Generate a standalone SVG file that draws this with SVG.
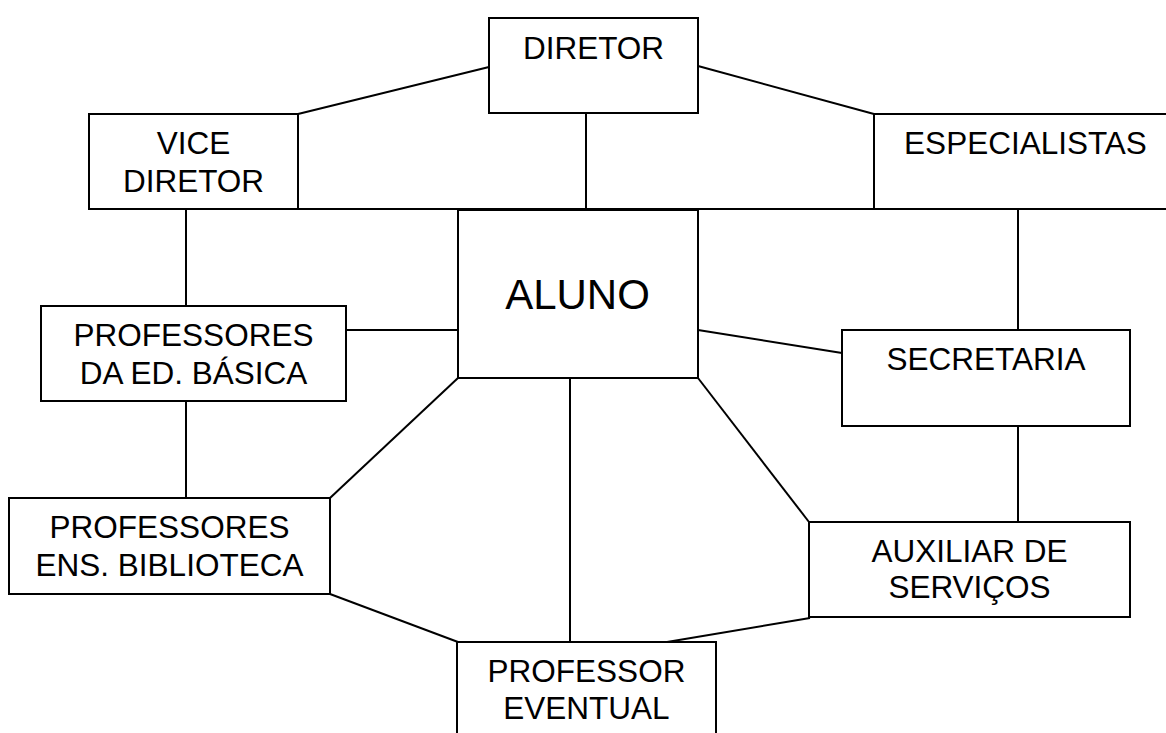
<svg xmlns="http://www.w3.org/2000/svg" width="1166" height="733" viewBox="0 0 1166 733">
<style>
.box{fill:#fff;stroke:#000;stroke-width:2}
.ln{fill:none;stroke:#000;stroke-width:2}
text{font-family:"Liberation Sans",Arial,sans-serif;font-size:31.5px;fill:#000;text-anchor:middle}
.big{font-size:42px}
</style>
<rect width="1166" height="733" fill="#fff"/>
<g id="connectors">
<line class="ln" x1="298" y1="114" x2="489" y2="67"/>
<line class="ln" x1="698" y1="66" x2="874" y2="114"/>
<line class="ln" x1="298" y1="209" x2="874" y2="209"/>
<line class="ln" x1="586" y1="113" x2="586" y2="209"/>
<line class="ln" x1="186" y1="209" x2="186" y2="306"/>
<line class="ln" x1="1018" y1="209" x2="1018" y2="330"/>
<line class="ln" x1="346" y1="330" x2="458" y2="330"/>
<line class="ln" x1="698" y1="330" x2="842" y2="353"/>
<line class="ln" x1="186" y1="401" x2="186" y2="498"/>
<line class="ln" x1="1018" y1="426" x2="1018" y2="522"/>
<line class="ln" x1="458" y1="378" x2="330" y2="498"/>
<line class="ln" x1="698" y1="378" x2="809" y2="522"/>
<line class="ln" x1="570" y1="378" x2="570" y2="642"/>
<line class="ln" x1="330" y1="594" x2="458" y2="642"/>
<line class="ln" x1="667" y1="642" x2="810" y2="618"/>
</g>
<g id="diretor">
<rect class="box" x="489" y="18" width="209" height="95"/>
<text x="593.5" y="59">DIRETOR</text>
</g>
<g id="vice-diretor">
<rect class="box" x="89" y="114" width="209" height="95"/>
<text x="193.5" y="154">VICE</text>
<text x="193.5" y="192">DIRETOR</text>
</g>
<g id="especialistas">
<rect class="box" x="874" y="114" width="310" height="95"/>
<text x="1025.5" y="154">ESPECIALISTAS</text>
</g>
<g id="aluno">
<rect class="box" x="458" y="210" width="240" height="168"/>
<text class="big" x="577.5" y="309">ALUNO</text>
</g>
<g id="prof-ed-basica">
<rect class="box" x="41" y="306" width="305" height="95"/>
<text x="193.5" y="346">PROFESSORES</text>
<text x="193.5" y="384">DA ED. BÁSICA</text>
</g>
<g id="secretaria">
<rect class="box" x="842" y="330" width="288" height="96"/>
<text x="986" y="370">SECRETARIA</text>
</g>
<g id="prof-ens-biblioteca">
<rect class="box" x="9" y="498" width="321" height="96"/>
<text x="169.5" y="538">PROFESSORES</text>
<text x="169.5" y="576">ENS. BIBLIOTECA</text>
</g>
<g id="auxiliar-servicos">
<rect class="box" x="809" y="522" width="321" height="95"/>
<text x="969.5" y="562">AUXILIAR DE</text>
<text x="969.5" y="598">SERVIÇOS</text>
</g>
<g id="professor-eventual">
<rect class="box" x="457" y="642" width="259" height="110"/>
<text x="586.5" y="682">PROFESSOR</text>
<text x="586.5" y="719">EVENTUAL</text>
</g>
</svg>
